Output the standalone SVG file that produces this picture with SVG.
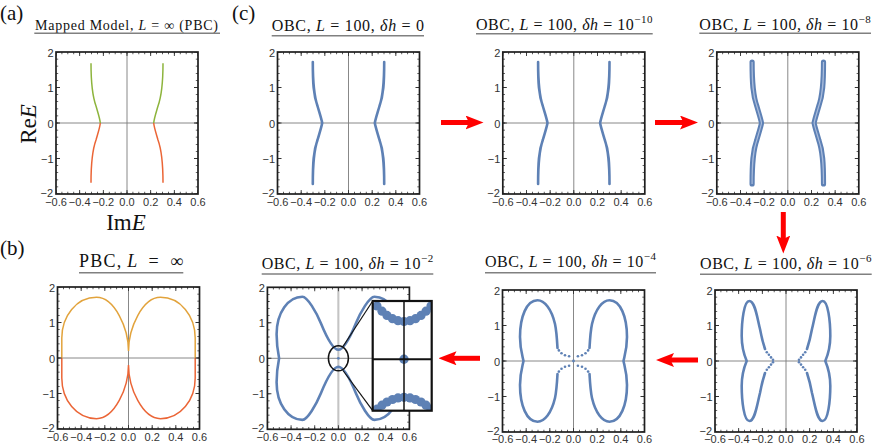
<svg xmlns="http://www.w3.org/2000/svg" width="872" height="445" viewBox="0 0 872 445">
<style>
text{font-family:"Liberation Sans",Arial,sans-serif}
.tl{font-size:11px;fill:#333;text-anchor:middle}
.tly{font-size:11px;fill:#333;text-anchor:end}
.tt{font-family:"Liberation Serif","Times New Roman",serif;font-size:16px;fill:#111}
.lab{font-family:"Liberation Serif","Times New Roman",serif;font-size:21px;fill:#111}
.axl{font-family:"Liberation Serif","Times New Roman",serif;font-size:23px;fill:#111}
.it{font-style:italic}
.sup{font-size:11px}
.ul{stroke:#808080;stroke-width:1.6}
.ax{stroke:#7a7a7a;stroke-width:0.9;fill:none}
.frm{fill:none;stroke:#1e1e1e;stroke-width:1.7}
.mnx{fill:none;stroke:#333;stroke-width:2.2;stroke-dasharray:0.8 5.1167;stroke-dashoffset:0.4}
.mny{fill:none;stroke:#333;stroke-width:2.2;stroke-dasharray:0.8 6.3;stroke-dashoffset:0.4}
.mjx{fill:none;stroke:#333;stroke-width:4;stroke-dasharray:0.9 22.767;stroke-dashoffset:0.45}
.mjy{fill:none;stroke:#333;stroke-width:4;stroke-dasharray:0.9 34.6;stroke-dashoffset:0.45}
.bl{fill:none;stroke:#5E81B5;stroke-width:2.6;stroke-linecap:round;stroke-linejoin:round}
.blk{fill:none;stroke:#5E81B5;stroke-width:5.2;stroke-linecap:round;stroke-linejoin:round}
.bli{fill:none;stroke:#a9bcdc;stroke-width:1.2}
.dot{fill:#5E81B5}
.gr{fill:none;stroke:#8DB43C;stroke-width:1.5}
.og{fill:none;stroke:#EB6536;stroke-width:1.5}
.gd{fill:none;stroke:#E2A33C;stroke-width:1.5}
.arr{stroke:#ff0000;stroke-width:5;marker-end:url(#ah)}
</style>
<defs>
<marker id="ah" markerUnits="userSpaceOnUse" markerWidth="18" markerHeight="14" viewBox="0 0 18 14" refX="7" refY="7" orient="auto">
<path d="M0 0L18 7L0 14L3.5 7Z" fill="#ff0000"/>
</marker>
<g id="axes"><path class="ax" d="M-71 0H71M0-71V71"/></g>
<g id="frame">
<path class="mnx" d="M-71 69.9H71M-71-69.9H71"/>
<path class="mny" d="M-69.9-71V71M69.9-71V71"/>
<path class="mjx" d="M-71 69H71M-71-69H71"/>
<path class="mjy" d="M-69-71V71M69-71V71"/>
<rect class="frm" x="-71" y="-71" width="142" height="142"/>
</g>
<path id="obc0" d="M-35.7-61C-35.7-40-35-28-31-17C-29-10-27-4-26.3 0C-27 4-29 10-31 17C-35 28-35.7 40-35.7 61M35.7-61C35.7-40 35-28 31-17C29-10 27-4 26.3 0C27 4 29 10 31 17C35 28 35.7 40 35.7 61"/>
<clipPath id="insetclip"><rect x="372.7" y="301" width="59" height="109.7"/></clipPath>
</defs>
<rect width="872" height="445" fill="#fff"/>

<!-- panel labels -->
<text class="lab" x="0" y="19.5">(a)</text>
<text class="lab" x="232" y="19.5">(c)</text>
<text class="lab" x="0" y="255">(b)</text>

<!-- (a) -->
<g id="panel-a">
<text class="tt" x="35" y="29.5" style="font-size:14px" textLength="183">Mapped Model, <tspan class="it">L</tspan> = ∞ (PBC)</text>
<line class="ul" x1="34.3" y1="33.3" x2="220" y2="33.3"/>
<g transform="translate(127,123)">
<use href="#axes"/>
<path class="gr" d="M-36-59.7C-36-40-35-28-31-17C-29-10-27-4-26.7 0M36-59.7C36-40 35-28 31-17C29-10 27-4 26.7 0"/>
<path class="og" d="M-26.7 0C-27 4-29 10-31 17C-35 28-36 40-36 59.7M26.7 0C27 4 29 10 31 17C35 28 36 40 36 59.7"/>
<use href="#frame"/>
</g>
<text class="tl"><tspan x="56" y="205.5">−0.6</tspan><tspan x="79.7" y="205.5">−0.4</tspan><tspan x="103.3" y="205.5">−0.2</tspan><tspan x="127" y="205.5">0.0</tspan><tspan x="150.7" y="205.5">0.2</tspan><tspan x="174.3" y="205.5">0.4</tspan><tspan x="198" y="205.5">0.6</tspan></text>
<text class="tly"><tspan x="53.5" y="56.5">2</tspan><tspan x="53.5" y="92">1</tspan><tspan x="53.5" y="127.5">0</tspan><tspan x="53.5" y="163">−1</tspan><tspan x="53" y="196.5">−2</tspan></text>
<text class="axl" transform="translate(36,124) rotate(-90)" text-anchor="middle">Re<tspan class="it">E</tspan></text>
<text class="axl" x="126" y="229.5" text-anchor="middle">Im<tspan class="it">E</tspan></text>
</g>

<!-- (c) delta h = 0 -->
<g id="panel-c-0">
<text class="tt" x="271.7" y="30.5" textLength="152.3">OBC, <tspan class="it">L</tspan> = 100, <tspan class="it">δh</tspan> = 0</text>
<line class="ul" x1="271.7" y1="35.7" x2="424" y2="35.7"/>
<g transform="translate(348.5,123)">
<use href="#axes"/>
<use href="#obc0" class="bl"/>
<use href="#frame"/>
</g>
<text class="tl"><tspan x="277.5" y="205.5">−0.6</tspan><tspan x="301.2" y="205.5">−0.4</tspan><tspan x="324.8" y="205.5">−0.2</tspan><tspan x="348.5" y="205.5">0.0</tspan><tspan x="372.2" y="205.5">0.2</tspan><tspan x="395.8" y="205.5">0.4</tspan><tspan x="419.5" y="205.5">0.6</tspan></text>
<text class="tly"><tspan x="275" y="56.5">2</tspan><tspan x="275" y="92">1</tspan><tspan x="275" y="127.5">0</tspan><tspan x="275" y="163">−1</tspan><tspan x="274.5" y="196.5">−2</tspan></text>
</g>

<!-- (c) delta h = 1e-10 -->
<g id="panel-c-10">
<text class="tt" x="476" y="30" textLength="176.5">OBC, <tspan class="it">L</tspan> = 100, <tspan class="it">δh</tspan> = 10<tspan class="sup" dy="-7">−10</tspan></text>
<line class="ul" x1="476" y1="33.7" x2="652.7" y2="33.7"/>
<g transform="translate(573.8,123)">
<use href="#axes"/>
<use href="#obc0" class="bl"/>
<use href="#frame"/>
</g>
<text class="tl"><tspan x="502.8" y="205.5">−0.6</tspan><tspan x="526.5" y="205.5">−0.4</tspan><tspan x="550.1" y="205.5">−0.2</tspan><tspan x="573.8" y="205.5">0.0</tspan><tspan x="597.5" y="205.5">0.2</tspan><tspan x="621.1" y="205.5">0.4</tspan><tspan x="644.8" y="205.5">0.6</tspan></text>
<text class="tly"><tspan x="500.3" y="56.5">2</tspan><tspan x="500.3" y="92">1</tspan><tspan x="500.3" y="127.5">0</tspan><tspan x="500.3" y="163">−1</tspan><tspan x="499.8" y="196.5">−2</tspan></text>
</g>

<!-- (c) delta h = 1e-8 -->
<g id="panel-c-8">
<text class="tt" x="699.3" y="30" textLength="171.5">OBC, <tspan class="it">L</tspan> = 100, <tspan class="it">δh</tspan> = 10<tspan class="sup" dy="-7">−8</tspan></text>
<line class="ul" x1="699.3" y1="33.3" x2="871" y2="33.3"/>
<g transform="translate(787.8,123)">
<use href="#axes"/>
<use href="#obc0" class="blk"/>
<use href="#obc0" class="bli"/>
<use href="#frame"/>
</g>
<text class="tl"><tspan x="716.8" y="205.5">−0.6</tspan><tspan x="740.5" y="205.5">−0.4</tspan><tspan x="764.1" y="205.5">−0.2</tspan><tspan x="787.8" y="205.5">0.0</tspan><tspan x="811.5" y="205.5">0.2</tspan><tspan x="835.1" y="205.5">0.4</tspan><tspan x="858.8" y="205.5">0.6</tspan></text>
<text class="tly"><tspan x="714.3" y="56.5">2</tspan><tspan x="714.3" y="92">1</tspan><tspan x="714.3" y="127.5">0</tspan><tspan x="714.3" y="163">−1</tspan><tspan x="713.8" y="196.5">−2</tspan></text>
</g>

<!-- (b) -->
<g id="panel-b">
<text class="tt" x="79" y="266.7" style="font-size:18px" textLength="104">PBC,&#8201;<tspan class="it">L</tspan>&#8194;=&#8194;∞</text>
<line class="ul" x1="79" y1="272.7" x2="183.3" y2="272.7"/>
<g transform="translate(128.5,358)">
<use href="#axes"/>
<path class="gd" d="M0-7C0-30-14-60.7-32-60.7C-52-60.7-66.7-42-66.7-20V0M0-7C0-30 14-60.7 32-60.7C52-60.7 66.7-42 66.7-20V0"/>
<path class="og" d="M-66.7 0V20C-66.7 42-52 60.7-32 60.7C-14 60.7 0 30 0 7M66.7 0V20C66.7 42 52 60.7 32 60.7C14 60.7 0 30 0 7"/>
<use href="#frame"/>
</g>
<text class="tl"><tspan x="57.5" y="440.5">−0.6</tspan><tspan x="81.2" y="440.5">−0.4</tspan><tspan x="104.8" y="440.5">−0.2</tspan><tspan x="128.5" y="440.5">0.0</tspan><tspan x="152.2" y="440.5">0.2</tspan><tspan x="175.8" y="440.5">0.4</tspan><tspan x="199.5" y="440.5">0.6</tspan></text>
<text class="tly"><tspan x="55" y="291.5">2</tspan><tspan x="55" y="327">1</tspan><tspan x="55" y="362.5">0</tspan><tspan x="55" y="398">−1</tspan><tspan x="54.5" y="431.5">−2</tspan></text>
</g>

<!-- (c) delta h = 1e-2 -->
<g id="panel-c-2">
<text class="tt" x="261.7" y="269" textLength="171.6">OBC, <tspan class="it">L</tspan> = 100, <tspan class="it">δh</tspan> = 10<tspan class="sup" dy="-7">−2</tspan></text>
<line class="ul" x1="261.7" y1="274" x2="433.3" y2="274"/>
<g transform="translate(338.4,358.3)">
<use href="#axes"/>
<line x1="0" y1="-71" x2="0" y2="71" stroke="#c4c4c4" stroke-width="2"/>
<path class="bl" d="M-59.3 0C-60.5-6-61.8-14-61.8-24C-61.8-46-50-61.6-36-61.6C-31-61.6-22-46-17.5-35C-13-24-6-8.5 0-8.5C6-8.5 13-24 17.5-35C22-46 31-61.6 36-61.6C50-61.6 61.8-46 61.8-24C61.8-14 60.5-6 59.3 0C60.5 6 61.8 14 61.8 24C61.8 46 50 61.6 36 61.6C31 61.6 22 46 17.5 35C13 24 6 8.5 0 8.5C-6 8.5-13 24-17.5 35C-22 46-31 61.6-36 61.6C-50 61.6-61.8 46-61.8 24C-61.8 14-60.5 6-59.3 0Z"/>
<circle class="dot" cx="0" cy="0" r="1.4"/>
<use href="#frame"/>
<ellipse cx="0" cy="0" rx="10" ry="12.5" fill="none" stroke="#111" stroke-width="1.5"/>
</g>
<line x1="343" y1="346.5" x2="372.7" y2="301" stroke="#111" stroke-width="1.2"/>
<line x1="343" y1="370.5" x2="372.7" y2="410.7" stroke="#111" stroke-width="1.2"/>
<rect x="372.7" y="301" width="59" height="109.7" fill="#fff"/>
<g clip-path="url(#insetclip)">
<g class="dot">
<circle cx="377" cy="306" r="4.6"/><circle cx="382" cy="311.2" r="4.6"/><circle cx="387" cy="315.4" r="4.6"/><circle cx="392.5" cy="318.7" r="4.6"/><circle cx="398" cy="320.7" r="4.6"/><circle cx="404" cy="321.5" r="4.6"/><circle cx="410" cy="320.7" r="4.6"/><circle cx="415.5" cy="318.7" r="4.6"/><circle cx="421" cy="315.4" r="4.6"/><circle cx="426" cy="311.2" r="4.6"/><circle cx="431" cy="306" r="4.6"/>
<circle cx="404" cy="359.3" r="4.7"/>
<circle cx="377" cy="409.2" r="4.6"/><circle cx="382" cy="405.2" r="4.6"/><circle cx="387" cy="402" r="4.6"/><circle cx="392.5" cy="399.5" r="4.6"/><circle cx="398" cy="397.9" r="4.6"/><circle cx="404" cy="397.3" r="4.6"/><circle cx="410" cy="397.9" r="4.6"/><circle cx="415.5" cy="399.5" r="4.6"/><circle cx="421" cy="402" r="4.6"/><circle cx="426" cy="405.2" r="4.6"/><circle cx="431" cy="409.2" r="4.6"/>
</g>
<line x1="404" y1="301" x2="404" y2="410.7" stroke="#111" stroke-width="1.5"/>
<line x1="372.7" y1="359.3" x2="431.7" y2="359.3" stroke="#111" stroke-width="2"/>
</g>
<rect x="372.7" y="301" width="59" height="109.7" fill="none" stroke="#111" stroke-width="2.2"/>
<text class="tl"><tspan x="267.4" y="440.5">−0.6</tspan><tspan x="291.1" y="440.5">−0.4</tspan><tspan x="314.7" y="440.5">−0.2</tspan><tspan x="338.4" y="440.5">0.0</tspan><tspan x="362.1" y="440.5">0.2</tspan><tspan x="385.7" y="440.5">0.4</tspan><tspan x="409.4" y="440.5">0.6</tspan></text>
<text class="tly"><tspan x="264.9" y="291.8">2</tspan><tspan x="264.9" y="327.3">1</tspan><tspan x="264.9" y="362.8">0</tspan><tspan x="264.9" y="398.3">−1</tspan><tspan x="264.4" y="431.8">−2</tspan></text>
</g>

<!-- (c) delta h = 1e-4 -->
<g id="panel-c-4">
<text class="tt" x="485" y="267.3" textLength="171">OBC, <tspan class="it">L</tspan> = 100, <tspan class="it">δh</tspan> = 10<tspan class="sup" dy="-7">−4</tspan></text>
<line class="ul" x1="485" y1="272.7" x2="656" y2="272.7"/>
<g transform="translate(573.5,361)">
<use href="#axes"/>
<path class="bl" d="M-16-13C-16.5-22-17-30-18.5-37C-22-52-29-60.7-36-60.7C-47-60.7-53.5-44-53.5-24C-53.5-12-51-5-50 0C-51 5-53.5 12-53.5 24C-53.5 44-47 60.7-36 60.7C-29 60.7-22 52-18.5 37C-17 30-16.5 22-16 13M16-13C16.5-22 17-30 18.5-37C22-52 29-60.7 36-60.7C47-60.7 53.5-44 53.5-24C53.5-12 51-5 50 0C51 5 53.5 12 53.5 24C53.5 44 47 60.7 36 60.7C29 60.7 22 52 18.5 37C17 30 16.5 22 16 13"/>
<g class="dot">
<circle cx="-14.6" cy="-10.6" r="1.3"/><circle cx="-12" cy="-7.8" r="1.3"/><circle cx="-8.5" cy="-5.7" r="1.3"/><circle cx="-4.4" cy="-4.8" r="1.3"/>
<circle cx="14.6" cy="-10.6" r="1.3"/><circle cx="12" cy="-7.8" r="1.3"/><circle cx="8.5" cy="-5.7" r="1.3"/><circle cx="4.4" cy="-4.8" r="1.3"/>
<circle cx="-14.6" cy="10.6" r="1.3"/><circle cx="-12" cy="7.8" r="1.3"/><circle cx="-8.5" cy="5.7" r="1.3"/><circle cx="-4.4" cy="4.8" r="1.3"/>
<circle cx="14.6" cy="10.6" r="1.3"/><circle cx="12" cy="7.8" r="1.3"/><circle cx="8.5" cy="5.7" r="1.3"/><circle cx="4.4" cy="4.8" r="1.3"/>
<circle cx="0" cy="0" r="1.4"/>
</g>
<use href="#frame"/>
</g>
<text class="tl"><tspan x="502.5" y="442.5">−0.6</tspan><tspan x="526.2" y="442.5">−0.4</tspan><tspan x="549.8" y="442.5">−0.2</tspan><tspan x="573.5" y="442.5">0.0</tspan><tspan x="597.2" y="442.5">0.2</tspan><tspan x="620.8" y="442.5">0.4</tspan><tspan x="644.5" y="442.5">0.6</tspan></text>
<text class="tly"><tspan x="500" y="294.5">2</tspan><tspan x="500" y="330">1</tspan><tspan x="500" y="365.5">0</tspan><tspan x="500" y="401">−1</tspan><tspan x="499.5" y="434.5">−2</tspan></text>
</g>

<!-- (c) delta h = 1e-6 -->
<g id="panel-c-6">
<text class="tt" x="700" y="269.3" textLength="171.5">OBC, <tspan class="it">L</tspan> = 100, <tspan class="it">δh</tspan> = 10<tspan class="sup" dy="-7">−6</tspan></text>
<line class="ul" x1="700" y1="274.3" x2="871.7" y2="274.3"/>
<g transform="translate(786,361)">
<use href="#axes"/>
<path class="bl" d="M-21-12C-23-18-24.5-24-26-32C-29-44-31-60-36.7-60C-42-60-44.3-40-44.3-25C-44.3-12-41-4-39.3 0C-41 4-44.3 12-44.3 25C-44.3 40-42 60-36.7 60C-31 60-29 44-26 32C-24.5 24-23 18-21 12M21-12C23-18 24.5-24 26-32C29-44 31-60 36.7-60C42-60 44.3-40 44.3-25C44.3-12 41-4 39.3 0C41 4 44.3 12 44.3 25C44.3 40 42 60 36.7 60C31 60 29 44 26 32C24.5 24 23 18 21 12"/>
<g class="dot">
<circle cx="-19.2" cy="-8.8" r="1.3"/><circle cx="-17.1" cy="-6.2" r="1.3"/><circle cx="-15" cy="-3.6" r="1.3"/><circle cx="-13" cy="-1.2" r="1.3"/>
<circle cx="-19.2" cy="8.8" r="1.3"/><circle cx="-17.1" cy="6.2" r="1.3"/><circle cx="-15" cy="3.6" r="1.3"/><circle cx="-13" cy="1.2" r="1.3"/>
<circle cx="19.2" cy="-8.8" r="1.3"/><circle cx="17.1" cy="-6.2" r="1.3"/><circle cx="15" cy="-3.6" r="1.3"/><circle cx="13" cy="-1.2" r="1.3"/>
<circle cx="19.2" cy="8.8" r="1.3"/><circle cx="17.1" cy="6.2" r="1.3"/><circle cx="15" cy="3.6" r="1.3"/><circle cx="13" cy="1.2" r="1.3"/>
</g>
<use href="#frame"/>
</g>
<text class="tl"><tspan x="715" y="442.5">−0.6</tspan><tspan x="738.7" y="442.5">−0.4</tspan><tspan x="762.3" y="442.5">−0.2</tspan><tspan x="786" y="442.5">0.0</tspan><tspan x="809.7" y="442.5">0.2</tspan><tspan x="833.3" y="442.5">0.4</tspan><tspan x="857" y="442.5">0.6</tspan></text>
<text class="tly"><tspan x="712.5" y="294.5">2</tspan><tspan x="712.5" y="330">1</tspan><tspan x="712.5" y="365.5">0</tspan><tspan x="712.5" y="401">−1</tspan><tspan x="712" y="434.5">−2</tspan></text>
</g>

<!-- connectors -->
<g id="connectors">
<line class="arr" x1="441" y1="122.5" x2="472.5" y2="122.5"/>
<line class="arr" x1="655" y1="122.5" x2="687" y2="122.5"/>
<line class="arr" x1="783.3" y1="212" x2="783.3" y2="242.5"/>
<line class="arr" x1="698" y1="360" x2="667" y2="360"/>
<line class="arr" x1="480" y1="358.3" x2="449.5" y2="358.3"/>
</g>
</svg>
